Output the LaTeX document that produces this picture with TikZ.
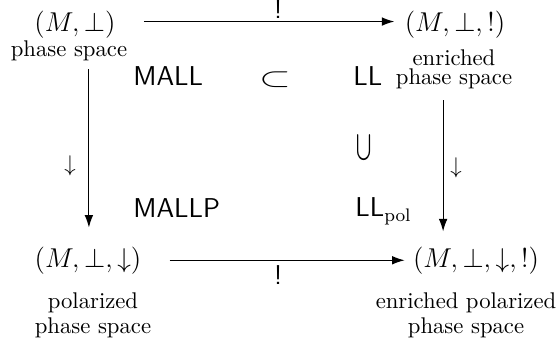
\documentclass[tikz,border=0pt]{standalone}
\usetikzlibrary{arrows.meta}
\begin{document}
\begin{tikzpicture}[x=0.4405pt,y=-0.4405pt,
  every node/.style={inner sep=0pt, anchor=base},
  mth/.style={font=\large},
  sflbl/.style={font=\large\sffamily},
  lbl/.style={font=\normalsize, align=center},
  arr/.style={-{Latex[length=5.5pt,width=3.8pt]}, line width=0.5pt}]
\useasboundingbox (0,0) rectangle (560,347);
% corner objects
\node[mth] (A) at (75,32) {$(M,\bot)$};
\node[lbl] (Al) at (69,57) {phase space};
\node[mth] (B) at (455,32) {$(M,\bot,!)$};
\node[lbl, anchor=north] (Bl) at (454,49) {enriched\\[-3.4pt]phase space};
\node[mth] (C) at (88,268) {$(M,\bot,\downarrow)$};
\node[lbl, anchor=north] (Cl) at (93,292) {polarized\\[-1pt]phase space};
\node[mth] (D) at (476,268) {$(M,\bot,\downarrow,!)$};
\node[lbl, anchor=north] (Dl) at (466,292) {enriched polarized\\[-1pt]phase space};
% logics
\node[sflbl, anchor=base west] (mall) at (133,86) {MALL};
\node[mth] (sub) at (275,87) {\scalebox{1.5}[1]{$\subset$}};
\node[sflbl, anchor=base west] (ll) at (353,86) {LL};
\node[mth, anchor=center] (cup) at (364,148) {\scalebox{0.8}[1.15]{$\bigcup$}};
\node[sflbl, anchor=base west] (mallp) at (133,218) {MALLP};
\node[sflbl, anchor=base west] (llpol) at (355,217) {LL$_{\mathrm{pol}}$};
% arrow labels
\node[sflbl] (bang1) at (278,18.5) {!};
\node[sflbl] (bang2) at (278,285) {!};
\node[lbl, anchor=center] (d1) at (70,166) {$\downarrow$};
\node[lbl, anchor=center] (d2) at (456,168) {$\downarrow$};
% connectors
\draw[arr, shorten <=12.3pt, shorten >=4.4pt] ([yshift=1.6pt]A.east) -- ([yshift=1.6pt]B.west);
\draw[arr, shorten <=12.3pt, shorten >=3.5pt] ([yshift=0.4pt]C.east) -- ([yshift=0.4pt]D.west);
\draw[arr, shorten <=3.3pt, shorten >=8.6pt] ([xshift=0.4pt]C.north |- Al.south) -- ([xshift=0.4pt]C.north);
\draw[arr, shorten <=4.7pt, shorten >=6.9pt] ([xshift=-4.8pt]Bl.south) -- ([xshift=-4.8pt]Bl.south |- D.north);
\end{tikzpicture}
\end{document}
